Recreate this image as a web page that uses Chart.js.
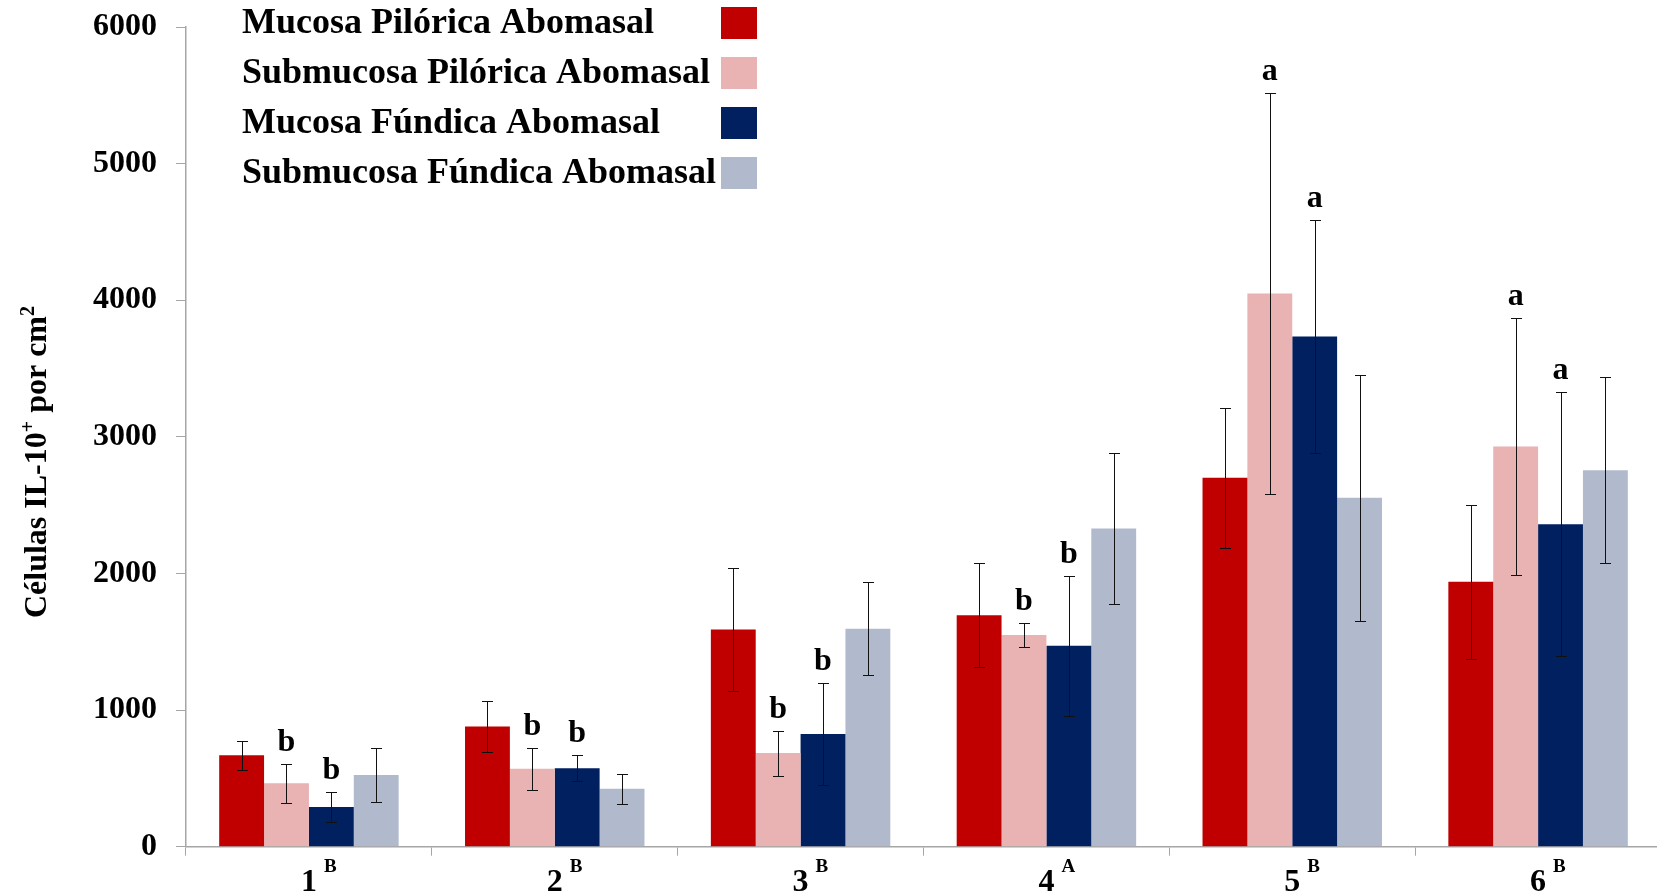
<!DOCTYPE html>
<html>
<head>
<meta charset="utf-8">
<script src="https://cdn.jsdelivr.net/npm/chart.js@4.4.1/dist/chart.umd.min.js"></script>
<style>
  html, body { margin: 0; padding: 0; background: #fff; overflow: hidden; width: 1657px; height: 895px; }
  #wrap { width: 1661px; height: 895px; }
</style>
</head>
<body>
<div id="wrap"><canvas id="c" width="1661" height="895"></canvas></div>
<script>
// Groups on the x axis and their significance superscripts
const categories = ['1', '2', '3', '4', '5', '6'];
const groupLetters = ['B', 'B', 'B', 'A', 'B', 'B'];

// Series names
const seriesNames = [
  'Mucosa Pilórica Abomasal',
  'Submucosa Pilórica Abomasal',
  'Mucosa Fúndica Abomasal',
  'Submucosa Fúndica Abomasal'
];

// Mean IL-10+ cells per cm² and their error margins
const mucosaPilorica      = [670, 880, 1590, 1695, 2700, 1940];
const mucosaPiloricaErr   = [105, 185, 450, 380, 510, 563];
const submucosaPilorica   = [465, 570, 685, 1550, 4050, 2930];
const submucosaPiloricaErr = [143, 155, 165, 90, 1470, 940];
const mucosaFundica       = [290, 575, 825, 1470, 3735, 2360];
const mucosaFundicaErr    = [110, 95, 370, 510, 850, 965];
const submucosaFundica    = [525, 425, 1595, 2330, 2555, 2755];
const submucosaFundicaErr = [195, 110, 340, 555, 900, 680];

// Letters printed over the bars
const submucosaPiloricaLetters = ['b', 'b', 'b', 'b', 'a', 'a'];
const mucosaFundicaLetters     = ['b', 'b', 'b', 'b', 'a', 'a'];

// Y axis ticks
const yTicks = [0, 1000, 2000, 3000, 4000, 5000, 6000];

const colors = ['#C00000', '#E9B2B3', '#002060', '#B1BACD'];
const FONT = 'Liberation Serif, Times New Roman, serif';
const axisGray = '#A6A6A6';

const datasets = [
  { label: seriesNames[0], data: mucosaPilorica,    errors: mucosaPiloricaErr,    letters: null },
  { label: seriesNames[1], data: submucosaPilorica, errors: submucosaPiloricaErr, letters: submucosaPiloricaLetters },
  { label: seriesNames[2], data: mucosaFundica,     errors: mucosaFundicaErr,     letters: mucosaFundicaLetters },
  { label: seriesNames[3], data: submucosaFundica,  errors: submucosaFundicaErr,  letters: null }
].map((d, i) => Object.assign(d, {
  backgroundColor: colors[i],
  borderWidth: 0,
  categoryPercentage: 0.73,
  barPercentage: 1.0
}));

// Error bars and significance letters
const errorBarPlugin = {
  id: 'errorBars',
  afterDatasetsDraw(chart) {
    const ctx = chart.ctx;
    const y = chart.scales.y;
    ctx.save();
    chart.data.datasets.forEach((ds, i) => {
      const meta = chart.getDatasetMeta(i);
      meta.data.forEach((bar, j) => {
        const v = ds.data[j], e = ds.errors[j];
        const yTop = Math.round(y.getPixelForValue(v + e)) + 0.5;
        const yBot = Math.round(y.getPixelForValue(v - e)) + 0.5;
        const x = Math.round(bar.x) + 0.5;
        ctx.strokeStyle = '#111';
        ctx.lineWidth = 1;
        ctx.beginPath();
        ctx.moveTo(x, yTop); ctx.lineTo(x, yBot);
        ctx.moveTo(x - 5.5, yTop); ctx.lineTo(x + 5.5, yTop);
        ctx.moveTo(x - 5.5, yBot); ctx.lineTo(x + 5.5, yBot);
        ctx.stroke();
        if (ds.letters && ds.letters[j]) {
          ctx.fillStyle = '#000';
          ctx.font = 'bold 32px ' + FONT;
          ctx.textAlign = 'center';
          ctx.textBaseline = 'alphabetic';
          ctx.fillText(ds.letters[j], bar.x, yTop - 14);
        }
      });
    });
    ctx.restore();
  }
};

// Category labels with superscript letters
const xLabelPlugin = {
  id: 'xLabels',
  afterDraw(chart) {
    const ctx = chart.ctx;
    const xs = chart.scales.x;
    ctx.save();
    ctx.fillStyle = '#000';
    ctx.textBaseline = 'alphabetic';
    categories.forEach((c, j) => {
      const x = xs.getPixelForValue(j);
      ctx.font = 'bold 32px ' + FONT;
      ctx.textAlign = 'center';
      const w = ctx.measureText(c).width;
      ctx.fillText(c, x, 891);
      ctx.font = 'bold 19px ' + FONT;
      ctx.textAlign = 'left';
      ctx.fillText(groupLetters[j], x + w / 2 + 7, 872);
    });
    ctx.restore();
  }
};

// Rotated y axis title with superscripts
const yTitlePlugin = {
  id: 'yTitle',
  afterDraw(chart) {
    const ctx = chart.ctx;
    const parts = [
      { t: 'Células IL-10', sup: false },
      { t: '+', sup: true },
      { t: ' por cm', sup: false },
      { t: '2', sup: true }
    ];
    ctx.save();
    ctx.translate(35, 462);
    ctx.rotate(-Math.PI / 2);
    ctx.fillStyle = '#000';
    ctx.textAlign = 'left';
    ctx.textBaseline = 'alphabetic';
    const fontFor = p => (p.sup ? 'bold 20px ' : 'bold 32px ') + FONT;
    let total = 0;
    parts.forEach(p => { ctx.font = fontFor(p); total += ctx.measureText(p.t).width; });
    let x = -total / 2;
    parts.forEach(p => {
      ctx.font = fontFor(p);
      ctx.fillText(p.t, x, p.sup ? -1 : 11);
      x += ctx.measureText(p.t).width;
    });
    ctx.restore();
  }
};

// Legend: names on the left, colour boxes in a column on the right
const legendPlugin = {
  id: 'sideLegend',
  afterDraw(chart) {
    const ctx = chart.ctx;
    ctx.save();
    chart.data.datasets.forEach((ds, i) => {
      const top = 7 + i * 50;
      const cy = top + 16;
      ctx.fillStyle = ds.backgroundColor;
      ctx.fillRect(721, top, 36, 32);
      ctx.fillStyle = '#000';
      ctx.font = 'bold 36px ' + FONT;
      ctx.textAlign = 'left';
      ctx.textBaseline = 'middle';
      ctx.fillText(ds.label, 242, cy + 1);
    });
    ctx.restore();
  }
};

new Chart(document.getElementById('c'), {
  type: 'bar',
  data: { labels: categories, datasets },
  options: {
    responsive: false,
    animation: false,
    devicePixelRatio: 1,
    layout: { padding: { top: 27, left: 0, right: 0, bottom: 0 } },
    plugins: { legend: { display: false }, tooltip: { enabled: false } },
    scales: {
      x: {
        offset: true,
        grid: { offset: true, drawOnChartArea: false, drawTicks: true, tickLength: 9, color: axisGray, lineWidth: 1 },
        border: { display: true, color: axisGray, width: 1.5 },
        ticks: { display: false },
        afterFit(scale) {
          scale.height = 48.3;
          scale.paddingLeft = 0; scale.paddingRight = 0;
        }
      },
      y: {
        min: 0,
        max: 6000,
        afterBuildTicks(scale) { scale.ticks = yTicks.map(v => ({ value: v })); },
        grid: { drawOnChartArea: false, drawTicks: true, tickLength: 10, color: axisGray, lineWidth: 1 },
        border: { display: true, color: axisGray, width: 1.5 },
        ticks: {
          color: '#000',
          padding: 19,
          font: { family: FONT, size: 32, weight: 'bold' },
          callback: v => String(v)
        },
        afterFit(scale) {
          scale.width = 186;
          scale.paddingTop = 0; scale.paddingBottom = 0;
        }
      }
    }
  },
  plugins: [errorBarPlugin, xLabelPlugin, yTitlePlugin, legendPlugin]
});
</script>
</body>
</html>
